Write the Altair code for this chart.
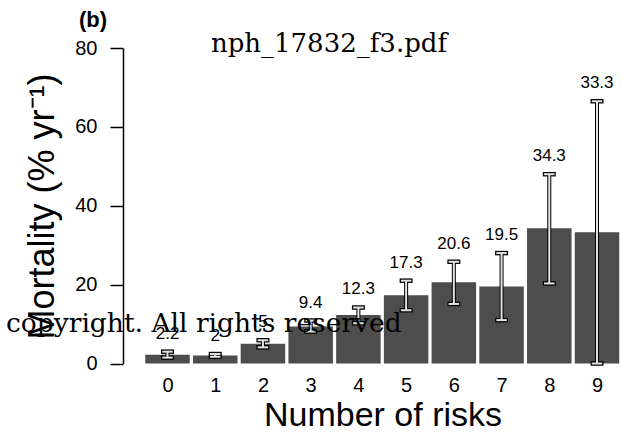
import altair as alt
import pandas as pd

risks = list(range(10))
mortality = [2.2, 2.0, 5.0, 9.4, 12.3, 17.3, 20.6, 19.5, 34.3, 33.3]
lower = [1.5, 1.7, 4.1, 8.1, 10.2, 13.5, 15.1, 11.0, 20.3, 0.0]
upper = [3.0, 2.4, 5.9, 10.9, 14.2, 21.0, 25.8, 28.0, 48.0, 66.5]
labels = ["2.2", "2", "5", "9.4", "12.3", "17.3", "20.6", "19.5", "34.3", "33.3"]
tick_values = list(range(10))

df = pd.DataFrame({"risk": risks, "mort": mortality, "lo": lower, "hi": upper, "lab": labels})

xs = alt.Scale(domain=[-0.828, 9.44], nice=False, zero=False)
ys = alt.Scale(domain=[0, 80], nice=False)

x_enc = alt.X("risk:Q", scale=xs, axis=alt.Axis(
    values=tick_values, format="d", title="Number of risks", grid=False, domain=False,
    ticks=False, tickSize=0, labelPadding=28, labelBaseline="alphabetic",
    labelFont="Liberation Sans", labelFontSize=20, labelColor="black",
    titleFont="Liberation Sans", titleFontSize=34, titleFontWeight="normal", titleColor="black",
    titleX=259.5, titleY=61.5, titleBaseline="alphabetic", titleAlign="center"))
y_enc = alt.Y("mort:Q", scale=ys, axis=alt.Axis(
    values=[0, 20, 40, 60, 80], title="Mortality (% yr⁻¹)", grid=False,
    domainColor="black", domainWidth=1.5, tickColor="black", tickWidth=1.5, tickSize=13,
    labelPadding=13, labelFont="Liberation Sans", labelFontSize=20, labelColor="black",
    titleFont="Liberation Sans", titleFontSize=36, titleFontWeight="normal", titleColor="black",
    titleAngle=270, titleX=-70, titleY=158, titleBaseline="alphabetic", titleAlign="center"))

base = alt.Chart(df)
bars = base.mark_bar(color="#4d4d4d", size=44.5).encode(x=x_enc, y=y_enc)

rule_dark = base.mark_rule(color="black", strokeWidth=4).encode(
    x=alt.X("risk:Q", scale=xs), y=alt.Y("lo:Q", scale=ys), y2="hi:Q")
rule_light = base.mark_rule(color="#e3e3e3", strokeWidth=2).encode(
    x=alt.X("risk:Q", scale=xs), y=alt.Y("lo:Q", scale=ys), y2="hi:Q")

def caps(field, color, size, thick):
    return base.mark_tick(orient="horizontal", color=color, size=size, thickness=thick, opacity=1).encode(
        x=alt.X("risk:Q", scale=xs), y=alt.Y(f"{field}:Q", scale=ys))

cap_dark = caps("lo", "black", 13, 4.5) + caps("hi", "black", 13, 4.5)
cap_light = caps("lo", "#e3e3e3", 10.5, 2) + caps("hi", "#e3e3e3", 10.5, 2)

vals = base.mark_text(font="Liberation Sans", fontSize=17, color="black", dy=-18, baseline="middle").encode(
    x=alt.X("risk:Q", scale=xs), y=alt.Y("hi:Q", scale=ys), text="lab:N")

def note(txt, x, y, **kw):
    return alt.Chart(alt.Data(values=[{"t": txt}])).mark_text(**kw).encode(
        x=alt.value(x), y=alt.value(y), text="t:N")

panel = note("(b)", -30, -21, font="Liberation Sans", fontSize=22, fontWeight="bold",
             align="center", baseline="alphabetic", color="black")
ttl = note("nph_17832_f3.pdf", 206, 3.7, font="DejaVu Serif", fontSize=26,
           align="center", baseline="alphabetic", color="black")
wm = note("copyright. All rights reserved", -117, 284, font="DejaVu Serif", fontSize=26.5,
          align="left", baseline="alphabetic", color="black")

chart = alt.layer(bars, rule_dark, cap_dark, rule_light, cap_light, vals, panel, ttl, wm).properties(
    width=500, height=315.5,
    autosize=alt.AutoSizeParams(type="none"),
    padding={"left": 123, "top": 48, "right": 0, "bottom": 68.5},
    background="white",
).configure_view(stroke=None)

chart.save("out.html", embed_options={"renderer": "svg", "actions": False})
